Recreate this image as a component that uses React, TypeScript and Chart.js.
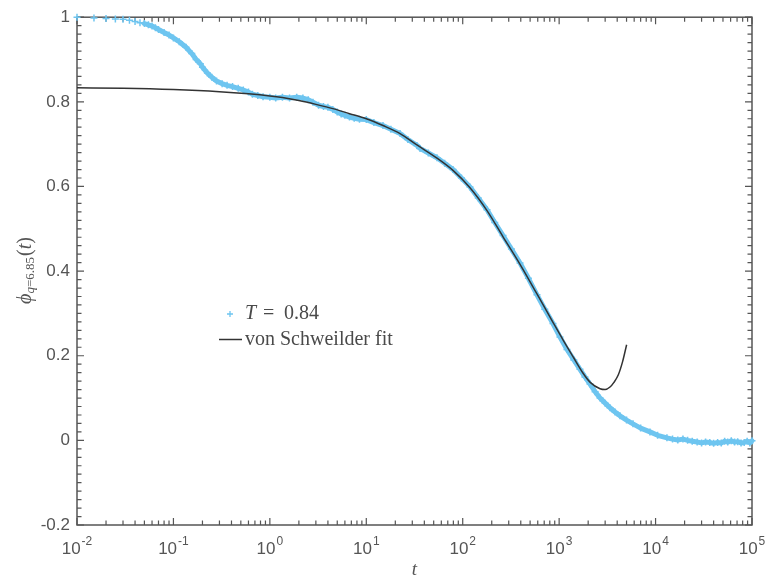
import React, { useEffect, useRef } from 'react';
import { Chart, registerables } from 'chart.js';

Chart.register(...registerables);

// ---- data ----
const dataT = [
  0.01, 0.015, 0.02, 0.025, 0.03, 0.035, 0.04, 0.045, 0.05,
  0.055, 0.06, 0.065, 0.07, 0.08, 0.09, 0.1, 0.115, 0.135, 0.155, 0.172, 0.19, 0.2, 0.225, 0.25, 0.28,
  0.32, 0.36, 0.41, 0.47, 0.53, 0.6, 0.66, 0.75, 0.85, 1.0, 1.15, 1.35, 1.6, 1.9, 2.2, 2.5, 2.8,
  3.2, 3.6, 4.0, 4.5, 5.0, 5.5, 6.0, 6.7, 7.5, 8.5, 10, 12, 14.9, 18, 22.4, 27, 33.5, 36.1, 44,
  54.1, 65, 79.3, 97, 119, 145, 178.6, 215, 262, 320, 393, 480, 589, 710, 863, 1020, 1206, 1420,
  1644, 1850, 2089, 2360, 2654, 3000, 3368, 3800, 4276, 5000, 5834, 7000, 8750, 10500, 13120,
  15000, 17000, 19230, 21500, 24000, 27000, 30000, 33000, 36500, 40000, 44000, 48000, 52000,
  56000, 61000, 66000, 71000, 77000, 83000, 89000, 95000, 100000,
];
const dataPhi = [
  1.0, 0.998, 0.997, 0.996, 0.995, 0.993, 0.99, 0.987, 0.985,
  0.982, 0.979, 0.975, 0.971, 0.964, 0.958, 0.951, 0.942, 0.929, 0.914, 0.9, 0.89, 0.882, 0.868, 0.858, 0.849,
  0.843, 0.839, 0.836, 0.832, 0.828, 0.823, 0.818, 0.815, 0.812, 0.811, 0.809, 0.811, 0.809, 0.811, 0.809, 0.805, 0.799,
  0.792, 0.789, 0.787, 0.782, 0.776, 0.771, 0.768, 0.764, 0.761, 0.759, 0.758, 0.751, 0.744, 0.735, 0.725, 0.711, 0.697, 0.69, 0.679,
  0.668, 0.655, 0.64, 0.62, 0.599, 0.573, 0.545, 0.515, 0.484, 0.452, 0.419, 0.383, 0.344, 0.31, 0.276, 0.244, 0.215, 0.19,
  0.168, 0.15, 0.133, 0.115, 0.1, 0.088, 0.077, 0.067, 0.058, 0.048, 0.039, 0.029, 0.02, 0.012, 0.006,
  0.003, 0.001, 0.003, 0.0, -0.002, -0.004, -0.006, -0.004, -0.005, -0.007, -0.005, -0.006, -0.002,
  -0.004, -0.001, -0.004, -0.003, -0.006, -0.005, -0.002, -0.006, -0.001,
];
const sparseCount = 8; // early samples drawn as separate markers only

const fitT = [
  0.01, 0.03, 0.1, 0.3, 0.6, 1.0, 1.35, 2.0, 3.0, 4.5, 6.7, 10, 14.9, 22.4, 33.5, 54.1, 79.3, 119,
  178.6, 262, 393, 589, 863, 1100, 1400, 1780, 2100, 2654, 3000, 3368, 3700, 4110, 4550, 5010,
];
const fitPhi = [
  0.833, 0.832, 0.829, 0.824, 0.819, 0.814, 0.81, 0.803, 0.794, 0.784, 0.772, 0.76, 0.744, 0.725, 0.698, 0.667, 0.638, 0.597,
  0.543, 0.481, 0.416, 0.346, 0.279, 0.237, 0.197, 0.158, 0.137, 0.122, 0.12, 0.126, 0.137, 0.155, 0.186, 0.226,
];

const xTickExponents = [-2, -1, 0, 1, 2, 3, 4, 5];
const yMin = -0.2;
const yMax = 1;
const yStep = 0.2;
const seriesName = { symbol: 'T', rest: '0.84' };
const fitName = 'von Schweilder fit';

const BLUE = 'rgb(110,197,240)';
const FIT = '#333333';
const AXIS = '#555555';
const TEXT = '#555555';
const SANS = '"Liberation Sans", Arial, Helvetica, sans-serif';
const SERIF = '"Liberation Serif", "DejaVu Serif", "Times New Roman", serif';

const decorPlugin = {
  id: 'decor',
  beforeDatasetsDraw(chart: any) {
    const { ctx, chartArea: a, scales } = chart;
    const xs = scales.x;
    const ys = scales.y;
    ctx.save();
    ctx.strokeStyle = AXIS;
    ctx.lineWidth = 1.2;
    ctx.beginPath();
    for (let i = -10; i <= 50; i++) {
      const v = i / 50;
      const py = ys.getPixelForValue(v);
      const len = i % 10 === 0 ? 7 : 4.5;
      ctx.moveTo(a.left, py);
      ctx.lineTo(a.left + len, py);
      ctx.moveTo(a.right, py);
      ctx.lineTo(a.right - len, py);
    }
    for (let e = -2; e <= 5; e++) {
      for (let m = 1; m <= 9; m++) {
        if (e === 5 && m > 1) break;
        const px = xs.getPixelForValue(m * Math.pow(10, e));
        const len = m === 1 ? 7 : 4.5;
        ctx.moveTo(px, a.top);
        ctx.lineTo(px, a.top + len);
        ctx.moveTo(px, a.bottom);
        ctx.lineTo(px, a.bottom - len);
      }
    }
    ctx.stroke();
    ctx.lineWidth = 1.5;
    ctx.strokeRect(a.left, a.top, a.right - a.left, a.bottom - a.top);
    ctx.restore();
  },
  afterDraw(chart: any) {
    const { ctx, chartArea: a, scales } = chart;
    const xs = scales.x;
    ctx.save();
    ctx.fillStyle = TEXT;
    ctx.textBaseline = 'alphabetic';
    ctx.textAlign = 'left';
    for (const e of xTickExponents) {
      const px = xs.getPixelForValue(Math.pow(10, e));
      ctx.font = `17px ${SANS}`;
      const base = '10';
      const wb = ctx.measureText(base).width;
      ctx.font = `12px ${SANS}`;
      const ex = String(e);
      const we = ctx.measureText(ex).width;
      const start = px - (wb + we + 1) / 2;
      ctx.font = `17px ${SANS}`;
      ctx.fillText(base, start, a.bottom + 29);
      ctx.font = `12px ${SANS}`;
      ctx.fillText(ex, start + wb + 1, a.bottom + 20);
    }
    ctx.font = `italic 19px ${SERIF}`;
    ctx.textAlign = 'center';
    ctx.fillText('t', (a.left + a.right) / 2, 575);
    ctx.save();
    ctx.translate(31, 271);
    ctx.rotate(-Math.PI / 2);
    ctx.textAlign = 'left';
    const parts: [string, string, number][] = [
      ['ϕ', `italic 20px ${SERIF}`, 0],
      ['q', `italic 13px ${SERIF}`, 3],
      ['=6.85', `13px ${SERIF}`, 3],
      ['(', `20px ${SERIF}`, 0],
      ['t', `italic 20px ${SERIF}`, 0],
      [')', `20px ${SERIF}`, 0],
    ];
    let total = 0;
    for (const [s, f] of parts) {
      ctx.font = f;
      total += ctx.measureText(s).width;
    }
    let cx = -total / 2;
    for (const [s, f, dy] of parts) {
      ctx.font = f;
      ctx.fillText(s, cx, dy);
      cx += ctx.measureText(s).width + (s === '=6.85' ? 1 : 0);
    }
    ctx.restore();

    ctx.strokeStyle = BLUE;
    ctx.lineWidth = 1.3;
    ctx.beginPath();
    ctx.moveTo(227, 314);
    ctx.lineTo(233, 314);
    ctx.moveTo(230, 311);
    ctx.lineTo(230, 317);
    ctx.stroke();
    ctx.fillStyle = '#4a4a4a';
    ctx.textAlign = 'left';
    ctx.font = `italic 20px ${SERIF}`;
    ctx.fillText(seriesName.symbol, 245, 319);
    ctx.font = `20px ${SERIF}`;
    ctx.fillText('=', 263, 319);
    ctx.fillText(seriesName.rest, 284, 319);
    ctx.strokeStyle = FIT;
    ctx.lineWidth = 1.5;
    ctx.beginPath();
    ctx.moveTo(219, 339.5);
    ctx.lineTo(242, 339.5);
    ctx.stroke();
    ctx.fillText(fitName, 245, 345);
    ctx.restore();
  },
};

export default function App() {
  const ref = useRef<HTMLCanvasElement>(null);
  useEffect(() => {
    const canvas = ref.current;
    if (!canvas) return;
    const chart = new Chart(canvas, {
      type: 'scatter',
      data: {
        datasets: [
          {
            label: fitName,
            data: fitT.map((t, i) => ({ x: t, y: fitPhi[i] })),
            showLine: true,
            borderColor: FIT,
            borderWidth: 1.5,
            pointRadius: 0,
            cubicInterpolationMode: 'monotone',
            clip: false,
          } as any,
          {
            label: `${seriesName.symbol} = ${seriesName.rest}`,
            data: dataT.map((t, i) => ({ x: t, y: dataPhi[i] })),
            showLine: true,
            borderColor: BLUE,
            borderWidth: 5,
            borderJoinStyle: 'round',
            borderCapStyle: 'round',
            pointStyle: 'cross',
            pointRadius: 3.5,
            pointBorderWidth: 1.5,
            pointBorderColor: BLUE,
            pointBackgroundColor: BLUE,
            segment: {
              borderColor: (c: any) => (c.p0DataIndex < sparseCount ? 'rgba(0,0,0,0)' : undefined),
            },
            clip: false,
          } as any,
        ],
      },
      options: {
        animation: false,
        responsive: false,
        maintainAspectRatio: false,
        layout: { padding: { top: 13, right: 16, left: 0, bottom: 0 } },
        plugins: { legend: { display: false }, tooltip: { enabled: false } },
        scales: {
          x: {
            type: 'logarithmic',
            min: 0.01,
            max: 1e5,
            grid: { display: false, drawTicks: false },
            border: { display: false },
            ticks: { display: false },
            afterFit: (s: any) => {
              s.height = 56;
            },
          },
          y: {
            type: 'linear',
            min: yMin,
            max: yMax,
            grid: { display: false, drawTicks: false },
            border: { display: false },
            ticks: {
              stepSize: yStep,
              padding: 7,
              color: TEXT,
              font: { family: SANS, size: 17 },
              callback: (v: any) => String(Number(Number(v).toFixed(1))),
            },
            afterFit: (s: any) => {
              s.width = 77;
            },
          },
        },
      } as any,
      plugins: [decorPlugin],
    });
    return () => chart.destroy();
  }, []);
  return (
    <div style={{ position: 'fixed', left: 0, top: 0, width: 768, height: 581, background: '#fff' }}>
      <canvas ref={ref} width={768} height={581} style={{ width: 768, height: 581, display: 'block' }} />
    </div>
  );
}
